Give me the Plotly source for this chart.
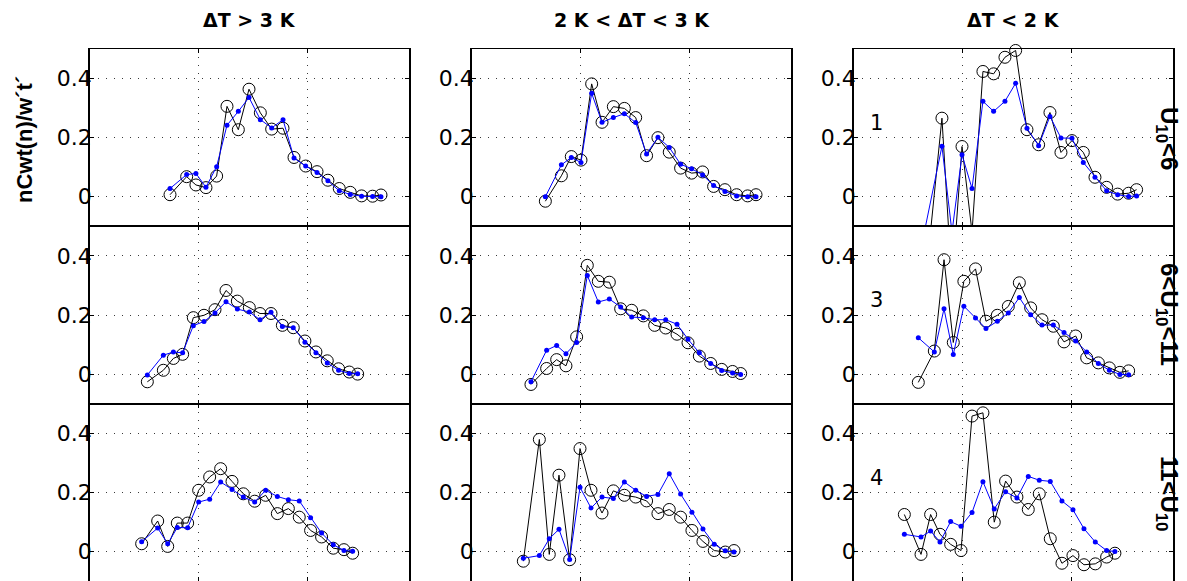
import plotly.graph_objects as go
from plotly.subplots import make_subplots

# ---------------- labels ----------------
col_titles = ["ΔT &gt; 3 K", "2 K &lt; ΔT &lt; 3 K", "ΔT &lt; 2 K"]
row_labels = ["U<sub>10</sub>&lt;6", "6&lt;U<sub>10</sub>&lt;11", "11&lt;U<sub>10</sub>"]
panel_numbers = ["1", "3", "4"]
y_title = "nCwt(n)/w´t´"
ytick_vals = [0, 0.2, 0.4]
ytick_text = ["0", "0.2", "0.4"]
xtick_vals = [1, 2]
y_range = [-0.1, 0.5]
x_range = [0, 2.927]

# ---------------- data (row, col) ----------------
x_11 = [0.734, 0.887, 0.972, 1.064, 1.162, 1.257, 1.361, 1.459, 1.563, 1.667, 1.771, 1.872, 1.979, 2.083, 2.183, 2.287, 2.388, 2.492, 2.593, 2.670]
black_11 = [0.007, 0.068, 0.040, 0.031, 0.070, 0.306, 0.227, 0.364, 0.284, 0.229, 0.232, 0.133, 0.104, 0.085, 0.056, 0.028, 0.015, 0.003, 0.002, 0.006]
blue_11 = [0.028, 0.075, 0.079, 0.032, 0.102, 0.242, 0.289, 0.336, 0.261, 0.233, 0.261, 0.131, 0.104, 0.082, 0.054, 0.020, 0.008, 0.002, 0.001, 0.0]

x_12 = [0.673, 0.820, 0.911, 1.000, 1.098, 1.193, 1.297, 1.398, 1.502, 1.602, 1.706, 1.810, 1.914, 2.015, 2.116, 2.217, 2.321, 2.428, 2.529, 2.606]
black_12 = [-0.015, 0.071, 0.136, 0.124, 0.382, 0.252, 0.305, 0.299, 0.268, 0.139, 0.200, 0.151, 0.097, 0.080, 0.084, 0.035, 0.024, 0.007, 0.003, 0.007]
blue_12 = [0.0, 0.108, 0.133, 0.116, 0.350, 0.252, 0.268, 0.281, 0.251, 0.145, 0.201, 0.167, 0.110, 0.095, 0.074, 0.038, 0.018, 0.003, 0.0, 0.0]

x_13 = [0.606, 0.807, 0.899, 0.991, 1.083, 1.183, 1.281, 1.385, 1.483, 1.587, 1.694, 1.798, 1.899, 2.000, 2.104, 2.211, 2.318, 2.419, 2.520, 2.593]
black_13 = [-0.47, 0.266, -0.30, 0.170, -0.12, 0.424, 0.416, 0.472, 0.495, 0.227, 0.176, 0.285, 0.150, 0.190, 0.150, 0.066, 0.032, 0.009, 0.012, 0.024]
blue_13 = [-0.19, 0.171, -0.12, 0.142, 0.028, 0.323, 0.289, 0.323, 0.384, 0.232, 0.173, 0.272, 0.199, 0.198, 0.116, 0.066, 0.020, 0.007, 0.001, 0.003]

x_21 = [0.526, 0.673, 0.765, 0.850, 0.948, 1.046, 1.147, 1.248, 1.352, 1.462, 1.560, 1.661, 1.765, 1.865, 1.972, 2.073, 2.177, 2.281, 2.379, 2.456]
black_21 = [-0.026, 0.013, 0.053, 0.067, 0.191, 0.199, 0.218, 0.283, 0.247, 0.225, 0.205, 0.205, 0.165, 0.157, 0.112, 0.075, 0.045, 0.018, 0.007, 0.0]
blue_21 = [-0.003, 0.064, 0.075, 0.072, 0.164, 0.178, 0.207, 0.245, 0.220, 0.210, 0.184, 0.209, 0.161, 0.157, 0.108, 0.072, 0.038, 0.013, 0.002, 0.001]

x_22 = [0.541, 0.685, 0.777, 0.862, 0.960, 1.058, 1.159, 1.260, 1.364, 1.465, 1.572, 1.676, 1.777, 1.881, 1.982, 2.086, 2.190, 2.291, 2.391, 2.465]
black_22 = [-0.035, 0.019, 0.049, 0.028, 0.126, 0.368, 0.314, 0.311, 0.221, 0.216, 0.197, 0.165, 0.156, 0.135, 0.106, 0.061, 0.036, 0.016, 0.009, 0.002]
blue_22 = [-0.026, 0.081, 0.097, 0.069, 0.107, 0.334, 0.244, 0.254, 0.227, 0.193, 0.191, 0.184, 0.184, 0.169, 0.118, 0.072, 0.036, 0.012, 0.004, -0.001]

x_23 = [0.590, 0.737, 0.826, 0.911, 1.008, 1.115, 1.211, 1.315, 1.416, 1.517, 1.621, 1.725, 1.829, 1.927, 2.034, 2.135, 2.242, 2.343, 2.440, 2.520]
black_23 = [-0.028, 0.078, 0.387, 0.107, 0.314, 0.356, 0.179, 0.199, 0.229, 0.309, 0.224, 0.184, 0.162, 0.109, 0.129, 0.055, 0.038, 0.021, 0.006, 0.011]
blue_23 = [0.123, 0.075, 0.221, 0.066, 0.230, 0.190, 0.154, 0.179, 0.207, 0.259, 0.201, 0.166, 0.166, 0.141, 0.112, 0.075, 0.036, 0.013, -0.001, -0.002]

x_31 = [0.474, 0.621, 0.713, 0.801, 0.896, 0.997, 1.098, 1.199, 1.303, 1.407, 1.511, 1.612, 1.719, 1.820, 1.920, 2.024, 2.125, 2.232, 2.330, 2.410]
black_31 = [0.026, 0.103, 0.017, 0.096, 0.096, 0.207, 0.252, 0.280, 0.237, 0.195, 0.170, 0.190, 0.128, 0.145, 0.116, 0.071, 0.049, 0.011, 0.006, -0.006]
blue_31 = [0.033, 0.079, 0.026, 0.081, 0.080, 0.167, 0.177, 0.235, 0.210, 0.184, 0.167, 0.207, 0.186, 0.175, 0.171, 0.114, 0.062, 0.023, 0.003, 0.001]

x_32 = [0.471, 0.618, 0.709, 0.798, 0.896, 0.991, 1.092, 1.193, 1.297, 1.398, 1.502, 1.602, 1.706, 1.810, 1.914, 2.018, 2.119, 2.223, 2.324, 2.404]
black_32 = [-0.033, 0.379, -0.010, 0.258, -0.028, 0.348, 0.207, 0.130, 0.205, 0.190, 0.184, 0.171, 0.128, 0.142, 0.116, 0.071, 0.034, 0.003, -0.002, 0.003]
blue_32 = [-0.023, -0.014, 0.043, 0.075, -0.027, 0.217, 0.147, 0.184, 0.179, 0.235, 0.207, 0.186, 0.193, 0.263, 0.194, 0.133, 0.076, 0.024, 0.002, -0.002]

x_33 = [0.462, 0.615, 0.703, 0.789, 0.887, 0.982, 1.083, 1.183, 1.287, 1.391, 1.495, 1.599, 1.700, 1.801, 1.908, 2.009, 2.110, 2.214, 2.318, 2.394]
black_33 = [0.125, -0.010, 0.125, 0.058, 0.024, 0.003, 0.458, 0.469, 0.099, 0.238, 0.184, 0.142, 0.195, 0.043, -0.040, -0.014, -0.045, -0.042, -0.019, -0.006]
blue_33 = [0.058, 0.049, 0.069, 0.032, 0.101, 0.085, 0.132, 0.236, 0.144, 0.202, 0.181, 0.254, 0.241, 0.237, 0.171, 0.141, 0.077, 0.032, 0.003, 0.0]

panels = {
    (1, 1): (x_11, black_11, blue_11),
    (1, 2): (x_12, black_12, blue_12),
    (1, 3): (x_13, black_13, blue_13),
    (2, 1): (x_21, black_21, blue_21),
    (2, 2): (x_22, black_22, blue_22),
    (2, 3): (x_23, black_23, blue_23),
    (3, 1): (x_31, black_31, blue_31),
    (3, 2): (x_32, black_32, blue_32),
    (3, 3): (x_33, black_33, blue_33),
}

# ---------------- figure ----------------
W, H = 1187, 581
ML, MR, MT, MB = 90, 14, 49, 0
PW, PH = W - ML - MR, H - MT - MB

def px_to_paper_x(px):
    return (px - ML) / PW

def px_to_paper_y(py):
    return 1 - (py - MT) / PH

fig = make_subplots(rows=3, cols=3, horizontal_spacing=63 / PW, vertical_spacing=0)

for (r, c), (xs, blk, blu) in panels.items():
    # black line (clipped to axes)
    fig.add_trace(go.Scatter(x=xs, y=blk, mode="lines",
                             line=dict(color="black", width=1),
                             showlegend=False, hoverinfo="skip"), row=r, col=c)
    # black open circles (only points inside the y range, not clipped)
    blk_in = [v if y_range[0] <= v <= y_range[1] else None for v in blk]
    fig.add_trace(go.Scatter(x=xs, y=blk_in, mode="markers",
                             marker=dict(symbol="circle-open", size=12,
                                         color="black", line=dict(width=1)),
                             cliponaxis=False, showlegend=False), row=r, col=c)
    # blue line with dots
    fig.add_trace(go.Scatter(x=xs, y=blu, mode="lines+markers",
                             line=dict(color="#0000ff", width=1),
                             marker=dict(symbol="circle", size=5, color="#0000ff"),
                             showlegend=False), row=r, col=c)

grid_style = dict(showgrid=True, gridcolor="#3a3a3a", gridwidth=1, griddash="1px,7px")
axis_common = dict(showline=True, linecolor="black", mirror="ticks",
                   ticks="inside", ticklen=4, tickwidth=1, tickcolor="black",
                   zeroline=False, **grid_style)

for r in range(1, 4):
    for c in range(1, 4):
        fig.update_xaxes(range=x_range, tickvals=xtick_vals, showticklabels=False,
                         linewidth=1, **axis_common, row=r, col=c)
        fig.update_yaxes(range=y_range, tickvals=ytick_vals, ticktext=ytick_text,
                         tickfont=dict(family="DejaVu Sans", size=22, color="black"),
                         ticklabelstandoff=-8, linewidth=1.5, **axis_common, row=r, col=c)

annotations = []
# column titles
col_centers_px = [249.5, 631.5, 1013.5]
for t, cx in zip(col_titles, col_centers_px):
    annotations.append(dict(text="<b>" + t + "</b>", x=px_to_paper_x(cx), y=px_to_paper_y(20),
                            xref="paper", yref="paper", showarrow=False,
                            xanchor="center", yanchor="middle",
                            font=dict(family="DejaVu Sans", size=19, color="black")))
# y axis title
annotations.append(dict(text="<b>" + y_title + "</b>", x=px_to_paper_x(24), y=px_to_paper_y(140),
                        xref="paper", yref="paper", showarrow=False, textangle=-90,
                        xanchor="center", yanchor="middle",
                        font=dict(family="Liberation Sans", size=22, color="black")))
# right row labels
row_centers_px = [138, 314, 493]
for t, cy in zip(row_labels, row_centers_px):
    annotations.append(dict(text="<b>" + t + "</b>", x=px_to_paper_x(1168), y=px_to_paper_y(cy),
                            xref="paper", yref="paper", showarrow=False, textangle=90,
                            xanchor="center", yanchor="middle",
                            font=dict(family="Liberation Sans", size=24, color="black")))
# panel numbers in third column
for r, num in zip(range(1, 4), panel_numbers):
    idx = (r - 1) * 3 + 3
    annotations.append(dict(text=num, x=0.21, y=0.25, xref=f"x{idx}", yref=f"y{idx}",
                            showarrow=False, xanchor="center", yanchor="middle",
                            font=dict(family="DejaVu Sans", size=21, color="black")))

fig.update_layout(width=W, height=H, margin=dict(l=ML, r=MR, t=MT, b=MB),
                  paper_bgcolor="white", plot_bgcolor="white",
                  annotations=annotations, showlegend=False)

fig.write_html("out.html")
